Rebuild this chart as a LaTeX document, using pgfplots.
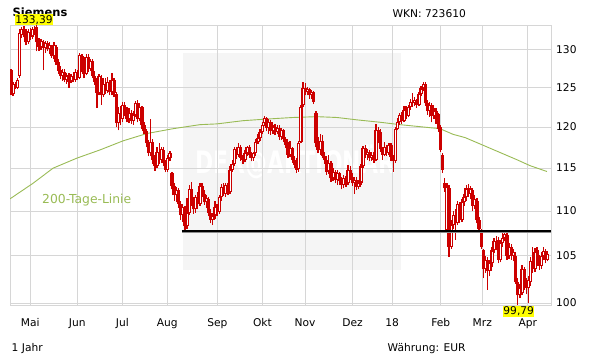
\documentclass[border=0pt]{standalone}
\usepackage{fontspec}
\setmainfont{DejaVu Sans}
\usepackage{pgfplots}
\pgfplotsset{compat=1.18}
\usepackage{pgfplotstable}
\definecolor{candle}{RGB}{204,0,0}
\definecolor{ma}{RGB}{153,187,85}
\definecolor{gridc}{RGB}{214,214,214}
\definecolor{wm}{RGB}{245,245,245}
\definecolor{hl}{RGB}{255,255,0}
\newcommand{\fs}{\fontsize{10.7}{12.8}\selectfont}
\pgfplotstableread{
d o h l c
0 127.3 127.5 124.0 124.4
1 124.2 125.8 123.9 125.5
2 125.5 125.7 124.8 125.0
3 125.0 126.3 124.8 126.0
4 126.5 132.8 126.3 132.3
5 132.0 133.1 131.6 132.8
6 132.8 133.2 131.7 132.0
7 132.6 132.8 130.6 131.0
8 131.0 132.8 130.8 132.4
9 132.4 133.0 131.4 131.8
10 131.8 133.1 131.5 132.9
11 132.9 133.3 132.0 132.5
12 133.1 133.39 129.8 131.0
13 131.0 131.6 129.9 130.4
14 130.4 131.5 130.0 131.2
15 131.0 131.4 127.3 130.2
16 130.2 131.2 129.6 130.9
17 130.9 131.2 129.8 130.1
18 130.1 131.0 129.4 130.6
19 130.4 130.7 128.9 129.2
20 129.2 131.0 128.8 130.6
21 130.4 130.6 128.0 128.4
22 128.4 128.8 126.8 127.2
23 127.3 127.9 126.1 126.5
24 126.5 127.4 125.9 127.0
25 127.0 127.4 125.7 126.0
26 126.0 126.9 125.5 126.6
27 126.6 126.9 125.0 125.8
28 125.8 126.8 125.6 126.5
29 126.4 127.0 125.7 126.0
30 126.0 127.4 125.8 127.0
31 127.0 127.3 126.0 126.3
32 126.3 129.6 126.1 129.3
33 129.2 129.5 127.0 127.2
34 127.2 127.8 126.2 126.8
35 126.8 129.4 126.6 129.0
36 129.0 129.4 127.0 127.5
37 127.5 128.8 127.2 128.5
38 128.5 128.8 126.2 126.5
39 126.5 127.2 125.4 125.8
40 125.8 126.2 122.4 124.3
41 124.3 126.8 124.0 126.5
42 126.3 126.6 122.8 124.0
43 124.0 126.3 123.8 125.5
44 125.5 126.2 124.2 124.6
45 124.6 126.4 124.3 125.8
46 125.8 126.0 124.0 124.4
47 124.4 126.9 124.0 126.0
48 126.0 126.2 123.8 124.3
49 124.2 124.5 120.0 120.5
50 120.5 122.5 119.6 121.8
51 121.8 122.6 120.2 121.0
52 121.0 123.2 120.6 122.8
53 122.8 123.2 121.4 122.0
54 122.0 122.5 120.6 121.0
55 121.0 122.4 120.5 121.8
56 121.8 122.2 120.4 120.8
57 120.8 122.0 120.3 121.5
58 121.5 123.3 121.2 123.0
59 123.0 123.4 120.6 121.0
60 121.0 123.0 120.8 122.5
61 122.5 122.7 119.8 120.2
62 120.2 120.6 119.2 119.5
63 119.5 119.8 117.5 118.0
64 118.0 118.4 116.4 116.8
65 116.8 121.0 116.4 118.2
66 118.2 118.5 115.5 116.0
67 116.0 116.6 114.7 115.3
68 115.3 117.5 115.0 117.0
69 117.0 118.0 115.5 116.0
70 116.0 117.6 115.6 117.3
71 117.2 117.5 115.2 115.6
72 115.6 116.0 114.5 114.8
73 114.8 116.6 114.6 116.2
74 116.2 117.1 115.8 116.8
75 114.4 114.6 112.5 112.9
76 112.9 113.3 111.2 111.8
77 111.8 112.8 111.0 112.4
78 112.4 112.6 110.4 110.8
79 110.8 111.2 109.0 109.5
80 109.5 110.8 108.8 110.5
81 110.3 110.6 107.9 108.3
82 108.3 111.5 108.0 109.8
83 109.8 113.0 109.6 112.5
84 112.5 113.4 110.6 111.0
85 111.0 111.6 109.7 110.2
86 110.2 111.9 109.8 111.6
87 111.6 112.2 110.2 110.8
88 110.8 113.2 110.6 112.9
89 112.9 113.3 111.6 112.0
90 112.0 112.4 110.7 111.0
91 111.0 111.8 110.4 111.5
92 111.4 111.6 109.4 109.8
93 109.8 110.2 108.6 109.0
94 109.0 109.8 108.4 109.5
95 109.5 111.1 109.1 110.5
96 110.5 110.8 109.4 109.9
97 109.9 111.9 109.7 111.6
98 111.6 113.1 111.2 112.8
99 112.8 113.3 111.7 112.0
100 112.0 113.2 111.6 113.0
101 113.0 113.3 111.9 112.2
102 112.2 115.2 112.0 114.8
103 114.8 116.0 114.5 115.5
104 115.5 117.6 115.3 117.3
105 117.3 117.6 116.1 116.6
106 116.6 118.0 116.3 117.5
107 117.5 117.8 115.9 116.2
108 116.2 116.6 115.5 116.0
109 116.0 117.2 115.7 116.8
110 116.8 117.7 116.5 117.5
111 117.5 117.8 116.2 116.6
112 116.6 117.0 115.8 116.2
113 116.2 117.0 115.9 116.8
114 116.8 118.5 116.5 118.2
115 118.2 119.2 117.9 118.6
116 118.6 119.8 118.3 119.4
117 119.4 120.6 119.1 120.3
118 120.5 121.4 120.1 121.1
119 121.1 121.3 119.5 119.9
120 119.9 121.0 119.2 120.6
121 120.6 120.9 119.0 119.5
122 119.5 120.3 119.2 120.0
123 120.0 120.4 119.0 119.4
124 119.4 120.2 119.1 119.9
125 119.9 120.2 118.4 118.8
126 118.8 119.9 118.4 119.6
127 119.6 119.8 118.1 118.5
128 118.5 118.8 117.4 117.8
129 117.8 118.2 116.2 116.6
130 116.6 118.3 116.3 117.4
131 117.4 117.6 115.6 116.0
132 116.0 116.4 115.0 115.4
133 115.4 116.2 114.4 114.8
134 114.9 118.3 114.6 118.0
135 118.2 122.8 118.0 122.5
136 122.8 125.8 122.5 125.0
137 125.0 125.6 124.0 124.4
138 124.4 125.1 124.0 124.8
139 124.8 125.0 123.6 124.0
140 124.0 124.7 123.6 124.4
141 124.4 124.6 122.9 123.2
142 121.8 122.0 117.5 118.0
143 118.0 118.8 116.8 117.2
144 117.2 119.1 116.6 118.3
145 118.3 119.0 116.2 116.5
146 116.5 117.0 115.5 116.0
147 116.0 116.4 114.2 114.6
148 114.6 116.6 114.3 115.6
149 115.6 115.9 113.4 113.8
150 113.8 115.0 113.5 114.6
151 114.6 114.8 113.2 113.6
152 113.6 114.8 113.0 114.4
153 114.4 114.6 113.0 113.5
154 113.5 113.9 112.5 113.0
155 113.0 114.2 112.6 113.8
156 113.8 114.1 112.8 113.2
157 113.2 115.4 113.0 114.8
158 114.8 115.2 113.6 114.0
159 114.0 114.4 112.9 113.2
160 113.2 113.9 112.0 113.6
161 113.6 113.9 112.4 112.8
162 112.8 113.6 112.5 113.3
163 113.3 115.5 113.0 115.2
164 115.2 117.7 115.0 117.4
165 117.4 117.8 116.2 116.6
166 116.6 117.3 116.0 117.0
167 117.0 117.2 115.8 116.2
168 116.2 117.0 115.9 116.6
169 116.6 116.9 115.6 116.0
170 116.0 120.4 115.8 119.6
171 119.6 120.0 118.0 119.0
172 119.4 119.7 117.0 117.3
173 117.3 117.6 116.0 116.6
174 116.6 118.2 116.4 117.5
175 117.5 117.8 116.5 116.8
176 116.8 118.0 116.6 117.8
177 117.8 118.0 115.9 116.3
178 116.3 116.6 114.6 115.8
179 115.9 120.0 115.6 119.8
180 119.8 121.1 119.6 120.6
181 120.6 121.8 120.2 121.5
182 121.5 121.9 120.4 120.8
183 120.8 122.6 120.6 122.2
184 122.2 122.6 121.0 121.4
185 121.4 122.8 121.2 122.5
186 122.5 123.5 122.2 123.2
187 123.2 124.3 122.5 123.0
188 123.0 123.8 122.6 123.4
189 123.4 123.6 122.4 122.8
190 122.8 124.5 122.6 124.2
191 124.2 125.2 123.9 124.9
192 124.9 125.8 124.6 125.5
193 125.5 125.8 122.7 123.0
194 123.0 123.4 121.5 122.0
195 122.0 123.2 121.3 122.8
196 122.8 123.0 120.6 121.4
197 121.4 122.4 121.0 122.0
198 122.0 122.4 120.4 121.6
199 121.6 121.8 119.4 119.8
200 120.0 120.2 117.0 117.2
201 116.6 116.8 114.4 114.8
202 113.3 113.8 112.2 112.6
203 107.8 113.2 107.5 112.8
204 112.6 113.0 104.9 106.0
205 106.0 109.0 105.8 108.4
206 108.4 110.0 108.0 109.6
207 109.6 110.2 106.8 108.6
208 108.6 111.2 108.4 110.8
209 110.8 111.0 108.6 109.0
210 109.0 111.4 108.8 111.0
211 111.0 112.0 110.6 111.6
212 111.6 113.0 111.2 112.6
213 112.6 113.1 111.6 112.0
214 112.0 112.9 111.4 112.6
215 112.4 112.6 110.0 110.6
216 110.6 111.8 110.2 111.4
217 111.2 111.5 108.6 109.0
218 109.0 109.3 107.6 108.0
219 107.8 108.0 105.8 106.0
220 105.6 105.8 102.6 103.6
221 103.6 105.0 103.2 104.6
222 104.6 104.9 101.4 103.4
223 103.4 104.6 102.8 104.2
224 104.2 106.0 103.8 105.6
225 105.6 107.0 105.3 106.6
226 106.6 107.2 105.6 106.0
227 106.8 107.1 104.2 104.6
228 104.6 106.7 104.3 106.4
229 106.4 107.6 106.0 107.0
230 107.0 107.7 106.6 107.4
231 107.3 107.5 104.6 105.0
232 105.0 106.4 104.7 106.0
233 106.0 106.3 104.6 105.0
234 105.0 105.8 104.4 105.4
235 105.0 105.4 102.0 102.2
236 102.2 102.6 99.79 100.8
237 100.8 102.0 100.5 101.6
238 101.0 104.0 100.8 103.6
239 103.6 103.8 101.4 102.0
240 102.0 102.6 100.9 101.6
241 101.6 102.8 100.0 102.4
242 102.2 104.9 101.8 104.5
243 104.5 106.0 103.2 103.6
244 103.6 105.9 103.3 105.4
245 105.6 106.0 104.4 104.8
246 104.8 105.1 103.5 103.9
247 103.9 105.4 103.6 105.0
248 105.0 106.0 104.6 105.5
249 105.5 105.8 104.2 104.6
250 104.6 105.5 104.4 105.2
}\candles
\pgfplotstableread{
d p
-0.466 111.4
10.2 113.2
19.6 115.0
30.7 116.2
41.5 117.2
52.2 118.3
63.3 119.2
75.5 119.8
88.0 120.3
95.9 120.4
108.1 120.8
119.2 121.0
131.3 121.2
142.5 121.3
151.8 121.2
161.2 120.9
171.9 120.6
181.2 120.3
190.5 120.05
199.8 119.8
205.9 119.1
211.5 118.7
223.1 117.4
235.7 116.0
241.7 115.3
249.6 114.6
}\mavg
\pgfplotstableread{
d p
79.6 107.72
251.5 107.72
}\support
\begin{document}
\begin{tikzpicture}
\useasboundingbox (0,0) rectangle (611bp,364bp);
\fill[wm] (182.5bp,94bp) rectangle (400.5bp,311.3bp);
\node[text=white, font=\fontsize{31}{31}\selectfont\bfseries, xscale=0.71, inner sep=0pt] at (295bp,202bp) {DER@AKTIONÄR};
\begin{axis}[
  at={(10bp,59bp)}, anchor=south west,
  width=541bp, height=280bp, scale only axis,
  xmin=-0.466, xmax=251.5,
  ymin=4.603068, ymax=4.893277,
  axis line style={draw=gridc, line width=0.9bp},
  xtick={8.99,30.88,51.84,72.79,96.16,117.12,136.91,159.09,177.46,200.12,219.5,240.66},
  xticklabels={Mai,Jun,Jul,Aug,Sep,Okt,Nov,Dez,18,Feb,Mrz,Apr},
  ytick={4.605170,4.653960,4.700480,4.744932,4.787492,4.828314,4.867534},
  yticklabels={100,105,110,115,120,125,130},
  grid=major,
  grid style={draw=gridc, line width=0.9bp},
  major tick length=0pt,
  tick style={draw=none},
  yticklabel pos=right,
  tick label style={font=\fs},
  y tick label style={anchor=west, inner sep=0pt, xshift=5bp},
  x tick label style={anchor=base, inner sep=0pt, yshift=-21.7bp},
]
\addplot[ma, line width=0.9bp, mark=none] table[x=d, y expr={ln(\thisrow{p})}] {\mavg};
% wicks
\addplot[candle, line width=1.3bp, -, mark=none, forget plot,
  quiver={u=0, v={ln(\thisrow{h})-ln(\thisrow{l})}}]
  table[x=d, y expr={ln(\thisrow{l})}] {\candles};
% bodies
\addplot[candle, line width=3.4bp, -, mark=none, forget plot,
  quiver={u=0, v={abs(ln(\thisrow{c})-ln(\thisrow{o}))}}]
  table[x=d, y expr={ln(min(\thisrow{o},\thisrow{c}))}] {\candles};
% hollow interiors for rising days (zero length on falling days)
\addplot[white, line width=0.8bp, -, mark=none, forget plot,
  quiver={u=0, v={max(ln(\thisrow{c})-ln(\thisrow{o})-0.00228,0)}}]
  table[x=d, y expr={ln(\thisrow{o})+0.00114}] {\candles};
% support line
\addplot[draw=black!45, line width=3bp, mark=none] table[x=d, y expr={ln(\thisrow{p})}] {\support};
\addplot[draw=black, line width=1.6bp, mark=none] table[x=d, y expr={ln(\thisrow{p})}] {\support};
\end{axis}
\node[anchor=base west, inner sep=0pt, text=ma, font=\fontsize{12.4}{14}\selectfont] at (42bp,160bp) {200-Tage-Linie};
\node[anchor=base west, inner sep=0pt, font=\fontsize{11.5}{13}\selectfont\bfseries] at (12.5bp,347bp) {Siemens};
\fill[hl] (15bp,339bp) rectangle (53bp,349.7bp);
\node[anchor=base, inner sep=0pt, font=\fs] at (34bp,340.8bp) {133,39};
\fill[hl] (503.3bp,46.7bp) rectangle (534bp,58bp);
\node[anchor=base, inner sep=0pt, font=\fs] at (518.7bp,49bp) {99,79};
\node[anchor=base west, inner sep=0pt, font=\fs] at (392.5bp,346bp) {WKN: 723610};
\node[anchor=base west, inner sep=0pt, font=\fs] at (11.5bp,13bp) {1 Jahr};
\node[anchor=base west, inner sep=0pt, font=\fs] at (387.5bp,13bp) {Währung: EUR};
\end{tikzpicture}
\end{document}
